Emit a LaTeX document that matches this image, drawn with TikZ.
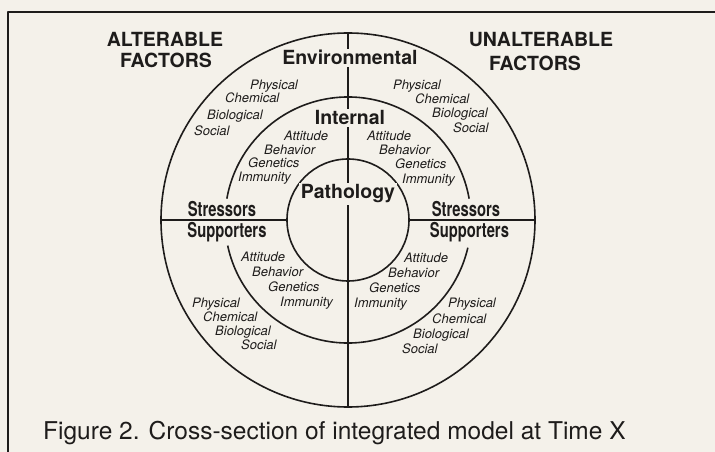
\documentclass[tikz,border=0pt]{standalone}
\usepackage{fontspec}
\setmainfont{TeX Gyre Heros}
\newfontfamily\narrowfont[FakeStretch=0.72]{TeX Gyre Heros}
\usetikzlibrary{calc}
\definecolor{paper}{RGB}{244,241,234}
\definecolor{ink}{RGB}{30,28,27}
\tikzset{
  heading/.style={anchor=base,font=\fontsize{19.5}{22}\selectfont\bfseries,inner sep=1.5pt,fill=paper,text=ink},
  band/.style={anchor=base,font=\narrowfont\fontsize{20.5}{22}\selectfont\bfseries,inner sep=0pt,text=ink},
  factor/.style={anchor=base west,font=\fontsize{13}{14}\selectfont\itshape,inner sep=0pt,text=ink},
  caption/.style={anchor=base west,font=\fontsize{24.5}{26}\selectfont,inner sep=0pt,text=ink},
  ring/.style={ink,line width=1.6pt},
  axis/.style={ink,line width=2pt}
}
\begin{document}
\begin{tikzpicture}[x=1pt,y=1pt,line join=round]
\useasboundingbox[fill=paper] (-348,-232) rectangle (367,220);
% frame (top and left edges only)
\coordinate (frameTL) at (-340,208);
\coordinate (frameTR) at (367,208);
\coordinate (frameBL) at (-340,-232);
\draw[ink,line width=2.5pt] (frameTR) -- (frameTL) -- (frameBL);
% rings
\coordinate (O) at (0,0);
\draw[ring] (O) circle[radius=187];
\draw[ring] (O) circle[radius=61];
\draw[ring] (10:123) arc[start angle=10,end angle=170,radius=123];
\draw[ring] (192:123) arc[start angle=192,end angle=347,radius=123];
% cross lines
\coordinate (top) at (90:187);
\coordinate (bottom) at (270:187);
\coordinate (outerL) at (180:187);
\coordinate (innerL) at (180:61);
\coordinate (innerR) at (0:61);
\coordinate (outerR) at (0:187);
\draw[axis] (top) -- (bottom);
\draw[axis] (outerL) -- (innerL);
\draw[axis] (innerR) -- (outerR);
%Headings
\node (alter) at (-183,173) [heading,fill=none] {ALTERABLE};
\node (alterF) at (-182,152) [heading,fill=none] {FACTORS};
\node (unalter) at (193,173) [heading,fill=none] {UNALTERABLE};
\node (unalterF) at (187,149) [heading,fill=none] {FACTORS};
\node (env) at (2,155) [heading] {Environmental};
\node (int) at (2,95) [heading] {Internal};
\node (path) at (0,21) [heading] {Pathology};
\node (stressL) at (-126,3) [band] {Stressors};
\node (stressR) at (118,3) [band] {Stressors};
\node (suppL) at (-121,-18) [band] {Supporters};
\node (suppR) at (121.5,-18) [band] {Supporters};
%Factor lists
\foreach \word/\x/\y [count=\i] in {Physical/-98/130,Chemical/-123/117,Biological/-141/100,Social/-154/84}
   \node (ulE\i) at (\x,\y) [factor] {\word};
\foreach \word/\x/\y [count=\i] in {Attitude/-64/79,Behavior/-84/65,Genetics/-100/52,Immunity/-110/38}
   \node (ulI\i) at (\x,\y) [factor] {\word};
\foreach \word/\x/\y [count=\i] in {Physical/45/130,Chemical/67/116,Biological/84/102,Social/105/87}
   \node (urE\i) at (\x,\y) [factor] {\word};
\foreach \word/\x/\y [count=\i] in {Attitude/19/79,Behavior/31/65,Genetics/47/51,Immunity/54/36}
   \node (urI\i) at (\x,\y) [factor] {\word};
\foreach \word/\x/\y [count=\i] in {Attitude/-107/-42,Behavior/-96/-57,Genetics/-80/-72,Immunity/-68/-87}
   \node (llI\i) at (\x,\y) [factor] {\word};
\foreach \word/\x/\y [count=\i] in {Physical/-156/-88,Chemical/-145/-102,Biological/-133/-116,Social/-107/-130}
   \node (llE\i) at (\x,\y) [factor] {\word};
\foreach \word/\x/\y [count=\i] in {Attitude/56/-43,Behavior/40/-58,Genetics/21/-73,Immunity/6/-88}
   \node (lrI\i) at (\x,\y) [factor] {\word};
\foreach \word/\x/\y [count=\i] in {Physical/100/-88,Chemical/84/-103,Biological/65/-118,Social/54/-133}
   \node (lrE\i) at (\x,\y) [factor] {\word};
%Caption
\node (cap) at (-305,-219) [caption] {Figure 2. Cross-section of integrated model at Time X};
\end{tikzpicture}
\end{document}
